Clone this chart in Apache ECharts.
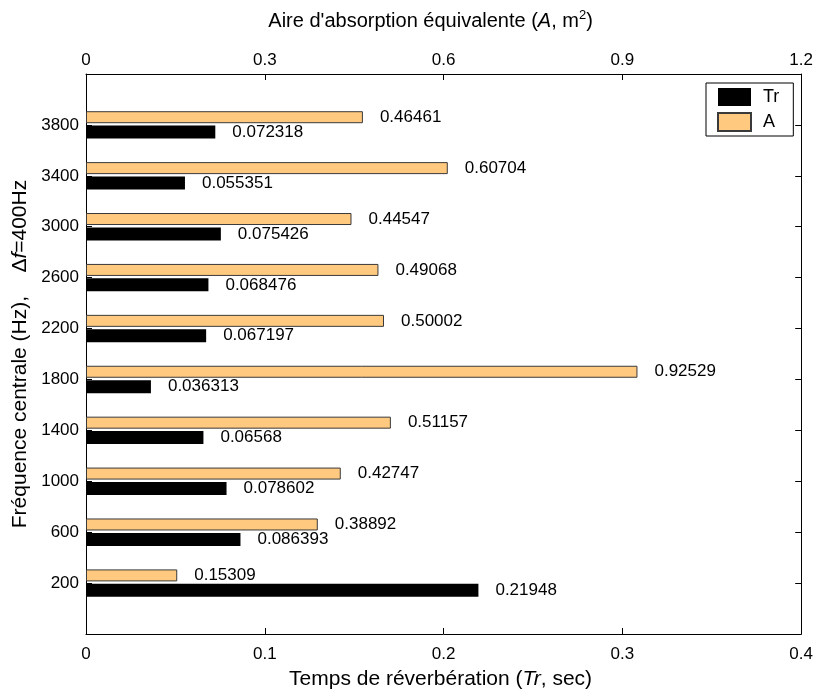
<!DOCTYPE html>
<html>
<head>
<meta charset="utf-8">
<script src="https://cdn.jsdelivr.net/npm/echarts@6/dist/echarts.min.js"></script>
<style>html,body{margin:0;padding:0;background:#fff}#c{width:816px;height:695px}</style>
</head>
<body>
<div id="c"></div>
<script>
const categories = ['', '200', '600', '1000', '1400', '1800', '2200', '2600', '3000', '3400', '3800', ''];
const trValues = [0.21948, 0.086393, 0.078602, 0.06568, 0.036313, 0.067197, 0.068476, 0.075426, 0.055351, 0.072318];
const aValues = [0.15309, 0.38892, 0.42747, 0.51157, 0.92529, 0.50002, 0.49068, 0.44547, 0.60704, 0.46461];
const bottomTicks = [0, 0.1, 0.2, 0.3, 0.4];
const topTicks = [0, 0.3, 0.6, 0.9, 1.2];

const FONT = "'Liberation Sans', Arial, sans-serif";
const pad = v => ['-'].concat(v, ['-']);
const chart = echarts.init(document.getElementById('c'), null, {renderer: 'canvas'});
const axisLineStyle = {show: true, onZero: false, lineStyle: {color: '#000', width: 1}};
const tickStyle = {show: true, inside: true, length: 6, lineStyle: {color: '#000'}};
const TS = 20, TB = 21;
chart.setOption({
  animation: false,
  textStyle: {fontFamily: FONT},
  grid: {left: 86, right: 14, top: 74, bottom: 53, containLabel: false},
  legend: {
    orient: 'vertical', left: 706, top: 83,
    padding: [5, 14, 4, 11], itemGap: 6, itemWidth: 33, itemHeight: 18,
    backgroundColor: '#fff', borderColor: '#000', borderWidth: 1,
    textStyle: {fontFamily: FONT, fontSize: 18, color: '#000', padding: [0, 0, 0, 7]},
    data: [{name: 'Tr', icon: 'rect'}, {name: 'A', icon: 'rect'}]
  },
  xAxis: [
    {
      type: 'value', position: 'bottom', min: bottomTicks[0], max: bottomTicks[bottomTicks.length - 1], interval: 0.1,
      axisLine: axisLineStyle, splitLine: {show: false}, axisTick: tickStyle,
      axisLabel: {fontSize: 17, color: '#000', margin: 12, fontFamily: FONT, formatter: v => String(+v.toFixed(1))},
      name: '{n|Temps de réverbération (}{i|Tr}{n|, sec)}', nameLocation: 'middle', nameGap: 35,
      nameTextStyle: {padding: [0, 6, 0, 0], rich: {n: {fontSize: TB, color: '#000', fontFamily: FONT}, i: {fontSize: TB, color: '#000', fontStyle: 'italic', fontFamily: FONT}}}
    },
    {
      type: 'value', position: 'top', min: topTicks[0], max: topTicks[topTicks.length - 1], interval: 0.3,
      axisLine: axisLineStyle, splitLine: {show: false}, axisTick: tickStyle,
      axisLabel: {fontSize: 17, color: '#000', margin: 5, fontFamily: FONT, formatter: v => String(+v.toFixed(1))},
      name: '{n|Aire d\'absorption équivalente (}{i|A}{n|, m}{s|2}{n|)}', nameLocation: 'middle', nameGap: 41,
      nameTextStyle: {padding: [0, 26, 0, 0], rich: {
        n: {fontSize: TS, color: '#000', fontFamily: FONT},
        i: {fontSize: TS, color: '#000', fontStyle: 'italic', fontFamily: FONT},
        s: {fontSize: 13, color: '#000', fontFamily: FONT, padding: [0, 0, 11, 0]}
      }}
    }
  ],
  yAxis: [
    {
      type: 'category', data: categories, boundaryGap: false, position: 'left',
      axisLine: axisLineStyle,
      axisTick: Object.assign({}, tickStyle, {interval: 0}),
      axisLabel: {fontSize: 17, color: '#000', margin: 7, interval: 0, fontFamily: FONT},
      name: '{n|Fréquence centrale (Hz),    Δ}{i|f}{n|=400Hz}', nameLocation: 'middle', nameGap: 54, nameRotate: 90,
      nameTextStyle: {rich: {n: {fontSize: TB, color: '#000', fontFamily: FONT}, i: {fontSize: TB, color: '#000', fontStyle: 'italic', fontFamily: FONT}}}
    },
    {
      type: 'category', data: categories, boundaryGap: false, position: 'right',
      axisLine: axisLineStyle,
      axisTick: Object.assign({}, tickStyle, {interval: 0}),
      axisLabel: {show: false}
    }
  ],
  series: [
    {
      name: 'A', type: 'bar', xAxisIndex: 1, yAxisIndex: 0, data: pad(aValues),
      barWidth: 12, barGap: '20%',
      itemStyle: {color: '#FFC97F', borderColor: '#3a3a3a', borderWidth: 1},
      label: {show: true, position: 'right', distance: 17, fontSize: 17, color: '#000', fontFamily: FONT, formatter: p => String(p.value)}
    },
    {
      name: 'Tr', type: 'bar', xAxisIndex: 0, yAxisIndex: 0, data: pad(trValues),
      barWidth: 13, barGap: '20%',
      itemStyle: {color: '#000'},
      label: {show: true, position: 'right', distance: 17, fontSize: 17, color: '#000', fontFamily: FONT, formatter: p => String(p.value)}
    }
  ]
});
</script>
</body>
</html>
